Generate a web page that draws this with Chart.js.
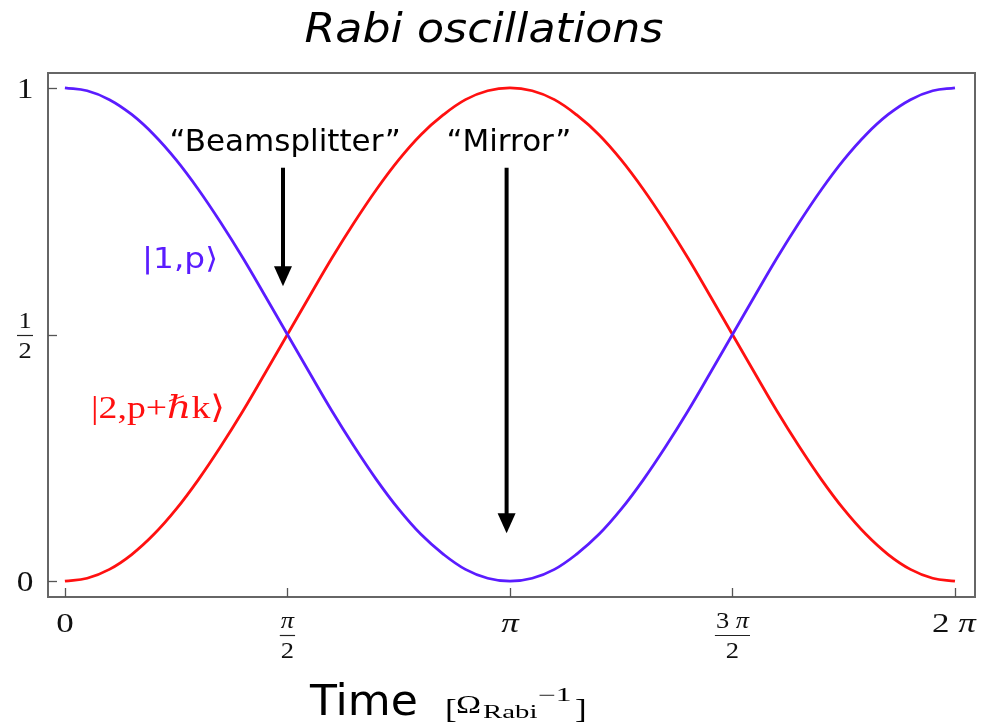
<!DOCTYPE html>
<html>
<head>
<meta charset="utf-8">
<script src="https://cdn.jsdelivr.net/npm/chart.js@4"></script>
<style>
html,body{margin:0;padding:0;background:#fff;}
#wrap{width:982px;height:725px;position:relative;}
</style>
</head>
<body>
<div id="wrap"><canvas id="c" width="982" height="725"></canvas></div>
<script>
// Time samples in units of pi/20 (0 .. 2 pi)
const timeSteps = [0,1,2,3,4,5,6,7,8,9,10,11,12,13,14,15,16,17,18,19,20,21,22,23,24,25,26,27,28,29,30,31,32,33,34,35,36,37,38,39,40];
// Population
const state1 = [1.000,0.994,0.976,0.946,0.905,0.854,0.794,0.727,0.655,0.578,0.500,0.422,0.345,0.273,0.206,0.146,0.095,0.055,0.024,0.006,0.000,0.006,0.024,0.055,0.095,0.146,0.206,0.273,0.345,0.422,0.500,0.578,0.655,0.727,0.794,0.854,0.905,0.946,0.976,0.994,1.000];
const state2 = [0.000,0.006,0.024,0.054,0.095,0.146,0.206,0.273,0.345,0.422,0.500,0.578,0.655,0.727,0.794,0.854,0.905,0.945,0.976,0.994,1.000,0.994,0.976,0.945,0.905,0.854,0.794,0.727,0.655,0.578,0.500,0.422,0.345,0.273,0.206,0.146,0.095,0.054,0.024,0.006,0.000];
const xTickValues = [0, 10, 20, 30, 40];
const xTickLabels = [["0"], ["\u03C0","2"], ["\u03C0"], ["3 \u03C0","2"], ["2 \u03C0"]];
const yTickValues = [0, 0.5, 1];
const yTickLabels = [["0"], ["1","2"], ["1"]];
const seriesNames = ["|1,p\u27E9", "|2,p+\u210Fk\u27E9"];
const annotations = [
  {text: "\u201CBeamsplitter\u201D", x: 9.9, y: 0.872, arrowX: 9.8, arrowFrom: 0.838, arrowTo: 0.598},
  {text: "\u201CMirror\u201D", x: 19.95, y: 0.872, arrowX: 19.85, arrowFrom: 0.838, arrowTo: 0.097}
];

const blue = '#5a1cff';
const red = '#ff1010';
const SERIF = '"Liberation Serif", "DejaVu Serif", serif';
const SANS = '"DejaVu Sans", Verdana, sans-serif';

// draw text made of parts (pi in italic) centred at cx, with horizontal stretch sx
function drawMixed(ctx, str, size, cx, y, sx) {
  const parts = [];
  for (const ch of str) {
    const it = ch === '\u03C0';
    if (parts.length && parts[parts.length - 1].it === it) parts[parts.length - 1].t += ch;
    else parts.push({t: ch, it});
  }
  let w = 0;
  parts.forEach(p => { ctx.font = (p.it ? 'italic ' : '') + size + 'px ' + SERIF; p.w = ctx.measureText(p.t).width; w += p.w; });
  ctx.save();
  ctx.translate(cx, y);
  ctx.scale(sx, 1);
  ctx.textAlign = 'left';
  let x = -w / 2;
  parts.forEach(p => { ctx.font = (p.it ? 'italic ' : '') + size + 'px ' + SERIF; ctx.fillText(p.t, x, 0); x += p.w; });
  ctx.restore();
  return w * sx;
}
function drawScaled(ctx, text, font, x, y, sx, align) {
  ctx.save();
  ctx.translate(x, y);
  ctx.scale(sx, 1);
  ctx.font = font;
  ctx.textAlign = align || 'left';
  ctx.fillText(text, 0, 0);
  ctx.restore();
}

const framePlugin = {
  id: 'frame',
  afterDraw(chart) {
    const ctx = chart.ctx;
    const a = chart.chartArea;
    const xs = chart.scales.x, ys = chart.scales.y;
    ctx.save();
    // frame
    ctx.strokeStyle = '#666';
    ctx.lineWidth = 2;
    ctx.strokeRect(a.left, a.top, a.right - a.left, a.bottom - a.top);
    // ticks
    ctx.lineWidth = 1.3;
    ctx.strokeStyle = '#555';
    xTickValues.forEach(v => {
      const px = Math.round(xs.getPixelForValue(v)) + 0.5;
      ctx.beginPath(); ctx.moveTo(px, a.bottom); ctx.lineTo(px, a.bottom - 9); ctx.stroke();
    });
    yTickValues.forEach(v => {
      const py = Math.round(ys.getPixelForValue(v)) + 0.5;
      ctx.beginPath(); ctx.moveTo(a.left, py); ctx.lineTo(a.left + 9, py); ctx.stroke();
    });
    // tick labels
    ctx.fillStyle = '#111';
    ctx.textBaseline = 'alphabetic';
    xTickValues.forEach((v, i) => {
      const px = xs.getPixelForValue(v);
      const lab = xTickLabels[i];
      if (lab.length === 1) {
        const dx = (i === xTickLabels.length - 1) ? -1 : 0;
        drawMixed(ctx, lab[0], 28, px + dx, 632, 1.25);
      } else {
        const w = drawMixed(ctx, lab[0], 23, px, 628, 1.15);
        drawMixed(ctx, lab[1], 23, px, 658, 1.15);
        ctx.beginPath(); ctx.lineWidth = 1.2; ctx.strokeStyle = '#222';
        ctx.moveTo(px - w / 2 - 1, 635.5); ctx.lineTo(px + w / 2 + 1, 635.5); ctx.stroke();
      }
    });
    yTickValues.forEach((v, i) => {
      const py = ys.getPixelForValue(v);
      const lab = yTickLabels[i];
      if (lab.length === 1) {
        drawMixed(ctx, lab[0], 29, 25, py + 10, 1.15);
      } else {
        drawMixed(ctx, lab[0], 24, 25, py - 7, 1.1);
        drawMixed(ctx, lab[1], 24, 25, py + 23, 1.1);
        ctx.beginPath(); ctx.lineWidth = 1.2; ctx.strokeStyle = '#222';
        ctx.moveTo(17, Math.round(py) + 0.5); ctx.lineTo(33, Math.round(py) + 0.5); ctx.stroke();
      }
    });
    // title
    ctx.fillStyle = '#000';
    drawScaled(ctx, 'Rabi oscillations', 'italic 41px ' + SANS, 484, 42, 1.08, 'center');
    // x-axis title
    drawScaled(ctx, 'Time', '42px ' + SANS, 310, 715, 1.05, 'left');
    drawScaled(ctx, '[', '27px ' + SERIF, 445, 718, 1.3, 'left');
    drawScaled(ctx, '\u03A9', '25px ' + SERIF, 456, 713, 1.35, 'left');
    drawScaled(ctx, 'Rabi', '18px ' + SERIF, 483, 718, 1.6, 'left');
    drawScaled(ctx, '\u22121', '18px ' + SERIF, 538, 701, 1.75, 'left');
    drawScaled(ctx, ']', '27px ' + SERIF, 575, 718, 1.3, 'left');
    // series labels
    ctx.fillStyle = blue;
    drawScaled(ctx, seriesNames[0], '29px ' + SANS, 180, 268, 1.13, 'center');
    ctx.fillStyle = red;
    drawScaled(ctx, seriesNames[1], '32px ' + SERIF, 158, 418, 1.18, 'center');
    // annotations
    ctx.fillStyle = '#000';
    ctx.strokeStyle = '#000';
    annotations.forEach(an => {
      ctx.font = '31px ' + SANS;
      ctx.textAlign = 'center';
      ctx.fillText(an.text, xs.getPixelForValue(an.x), ys.getPixelForValue(an.y));
      const ax = xs.getPixelForValue(an.arrowX);
      const y0 = ys.getPixelForValue(an.arrowFrom);
      const y1 = ys.getPixelForValue(an.arrowTo);
      ctx.lineWidth = 4;
      ctx.beginPath(); ctx.moveTo(ax, y0); ctx.lineTo(ax, y1 - 18); ctx.stroke();
      ctx.beginPath();
      ctx.moveTo(ax - 9, y1 - 20); ctx.lineTo(ax + 9, y1 - 20); ctx.lineTo(ax, y1); ctx.closePath(); ctx.fill();
    });
    ctx.restore();
  }
};

new Chart(document.getElementById('c'), {
  type: 'line',
  data: {
    datasets: [
      {label: seriesNames[0], data: timeSteps.map((t, i) => ({x: t, y: state1[i]})), borderColor: blue, borderWidth: 2.8, pointRadius: 0, tension: 0.4, fill: false},
      {label: seriesNames[1], data: timeSteps.map((t, i) => ({x: t, y: state2[i]})), borderColor: red, borderWidth: 2.8, pointRadius: 0, tension: 0.4, fill: false}
    ]
  },
  options: {
    responsive: false,
    animation: false,
    layout: {padding: {left: 48, top: 73, right: 7, bottom: 128}},
    plugins: {legend: {display: false}, tooltip: {enabled: false}, title: {display: false}},
    scales: {
      x: {type: 'linear', display: false, min: -0.76, max: 40.9},
      y: {type: 'linear', display: false, min: -0.032, max: 1.030}
    }
  },
  plugins: [framePlugin]
});
</script>
</body>
</html>
